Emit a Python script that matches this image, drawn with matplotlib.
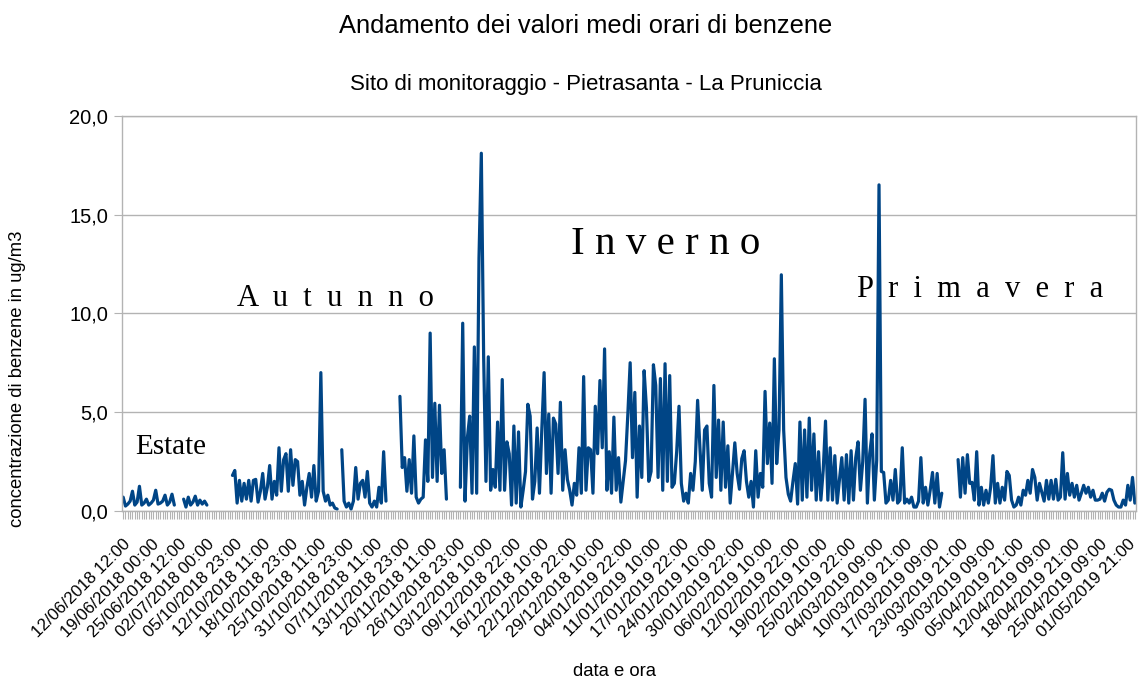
import numpy as np
import matplotlib.pyplot as plt
import matplotlib.transforms as mtransforms

# ================================
# Data (valori medi orari, un campione ogni 13 ore circa)
# ================================
NA = np.nan

estate_1 = [0.7, 0.25, 0.35, 0.5, 1.0, 0.3, 0.45, 1.25, 0.3, 0.4,
            0.6, 0.3, 0.4, 0.55, 1.05, 0.35, 0.4, 0.5, 0.8, 0.3,
            0.45, 0.85, 0.3]
estate_2 = [0.6, 0.2, 0.7, 0.3, 0.45, 0.75, 0.3, 0.55, 0.35, 0.5, 0.3]

autunno_1 = [1.8, 2.05, 0.4, 1.55, 0.5, 1.4, 0.6, 1.55, 0.5, 1.55,
             1.6, 0.45, 1.0, 1.9, 0.6, 1.2, 2.3, 0.6, 1.5, 0.8,
             3.2, 1.0, 2.6, 2.9, 1.0, 3.1, 1.3, 2.6, 2.5, 0.8,
             1.5, 0.3, 1.2, 1.9, 0.7, 2.3, 0.5, 1.0, 7.0, 1.0,
             0.5, 0.8, 0.3, 0.4, 0.15, 0.1]
autunno_2 = [3.1, 0.5, 0.2, 0.4, 0.1, 0.5, 2.2, 0.6, 1.4, 1.55,
             0.7, 2.0, 0.4, 0.2, 0.5, 0.2, 1.2, 0.4, 3.0, 0.5]
autunno_3 = [5.8, 2.2, 2.7, 1.0, 2.6, 0.9, 3.8, 0.7, 0.4, 0.6,
             0.7, 3.6, 1.5, 9.0, 1.7, 5.45, 1.5, 5.35, 1.9, 3.1, 0.6]

inverno = [1.2, 9.5, 0.5, 3.7, 4.8, 0.9, 8.3, 0.9, 12.8, 18.1,
           7.8, 1.5, 7.8, 1.05, 2.1, 1.2, 4.5, 1.05, 6.65, 1.05,
           3.5, 2.9, 0.3, 4.3, 0.4, 4.0, 0.2, 1.05, 2.0, 5.4,
           4.8, 0.6, 1.5, 4.2, 0.9, 4.1, 7.0, 1.9, 4.9, 0.9,
           4.7, 4.4, 1.9, 5.5, 1.05, 3.1, 1.6, 1.05, 0.3, 1.4,
           0.8, 3.2, 0.9, 6.8, 1.05, 3.2, 3.1, 0.9, 5.3, 2.9,
           6.6, 3.2, 8.2, 1.05, 3.0, 0.9, 4.75, 1.05, 2.7, 0.45,
           1.5, 2.55, 4.9, 7.5, 2.7, 6.0, 0.7, 4.3, 1.7, 7.1,
           5.2, 1.5, 2.0, 7.4, 6.35, 1.7, 6.7, 1.05, 7.45, 1.5,
           6.85, 1.2, 1.4, 3.0, 5.3, 1.4, 0.5, 0.9, 0.4, 1.9,
           1.05, 2.5, 5.6, 3.2, 1.05, 4.1, 4.3, 1.4, 0.7, 6.35,
           1.7, 4.6, 1.05, 4.5, 1.2, 3.3, 0.4, 1.9, 3.45, 1.9,
           1.1, 2.65, 3.05, 1.5, 0.7, 1.5, 0.2, 3.05, 0.7, 1.9,
           1.2, 6.05, 2.4, 4.45, 1.4, 7.7, 2.4, 4.1, 11.95, 4.1,
           1.7, 0.85, 0.5, 1.5, 2.4, 0.35, 4.5, 0.55, 4.1, 0.7,
           4.7, 1.05, 3.9, 0.55, 3.0, 0.55, 2.05, 4.55, 0.55, 3.2,
           0.55, 2.8, 0.4, 1.6, 2.7, 0.55, 2.85, 0.4, 3.05, 0.55,
           2.7, 3.5, 1.05, 2.5, 5.65, 0.4, 2.9, 3.9, 0.55, 2.55,
           16.5, 2.0, 1.95, 0.4, 0.55, 1.55, 0.55, 2.1, 0.4, 0.55,
           3.2, 0.4, 0.6, 0.4, 0.7, 0.2, 0.2, 0.5, 2.7, 0.4,
           1.2, 0.3, 1.05, 1.95, 0.4, 1.9, 0.2, 0.9]

primavera = [2.6, 0.7, 2.7, 0.9, 2.85, 1.4, 1.45, 0.55, 3.0, 0.3,
             1.2, 0.3, 1.05, 0.4, 1.2, 2.8, 0.4, 1.4, 0.4, 1.2,
             0.55, 2.0, 1.8, 0.55, 0.2, 0.3, 0.7, 0.3, 1.05, 0.8,
             1.55, 0.9, 2.1, 1.7, 0.55, 1.4, 0.95, 0.5, 1.55, 0.6,
             1.55, 0.6, 1.6, 0.55, 0.7, 2.95, 0.6, 1.9, 0.8, 1.4,
             0.7, 1.3, 0.55, 0.9, 1.3, 0.9, 1.2, 0.7, 1.05, 0.55,
             0.55, 0.6, 0.9, 0.5, 0.95, 1.1, 1.05, 0.55, 0.3, 0.2,
             0.2, 0.55, 0.3, 1.3, 0.55, 1.7, 0.4]

# dati mancanti tra un blocco e l'altro
benzene = np.array(estate_1 + [NA] * 3 + estate_2 + [NA] * 10 + autunno_1 + [NA]
                   + autunno_2 + [NA] * 5 + autunno_3 + [NA] * 5 + inverno
                   + [NA] * 6 + primavera)

date_labels = ['12/06/2018 12:00', '19/06/2018 00:00', '25/06/2018 12:00', '02/07/2018 00:00',
               '05/10/2018 23:00', '12/10/2018 11:00', '18/10/2018 23:00', '25/10/2018 11:00',
               '31/10/2018 23:00', '07/11/2018 11:00', '13/11/2018 23:00', '20/11/2018 11:00',
               '26/11/2018 23:00', '03/12/2018 10:00', '09/12/2018 22:00', '16/12/2018 10:00',
               '22/12/2018 22:00', '29/12/2018 10:00', '04/01/2019 22:00', '11/01/2019 10:00',
               '17/01/2019 22:00', '24/01/2019 10:00', '30/01/2019 22:00', '06/02/2019 10:00',
               '12/02/2019 22:00', '19/02/2019 10:00', '25/02/2019 22:00', '04/03/2019 09:00',
               '10/03/2019 21:00', '17/03/2019 09:00', '23/03/2019 21:00', '30/03/2019 09:00',
               '05/04/2019 21:00', '12/04/2019 09:00', '18/04/2019 21:00', '25/04/2019 09:00',
               '01/05/2019 21:00']
LABEL_STEP = 12   # campioni tra due etichette

y_ticks = [0, 5, 10, 15, 20]
y_labels = ['0,0', '5,0', '10,0', '15,0', '20,0']

# ================================
# Figure
# ================================
W, H = 1141, 682
plt.rcParams['font.family'] = ['Liberation Sans', 'DejaVu Sans']
fig = plt.figure(figsize=(W / 100, H / 100), dpi=100)

def fx(px):
    return px / W

def fy(py):
    return 1 - py / H

ax = fig.add_axes([fx(122), fy(511), fx(1136) - fx(122), fy(115.7) - fy(511)])

x = np.arange(len(benzene))
ax.plot(x, benzene, color='#004586', lw=2.3, solid_joinstyle='round', solid_capstyle='round')

ax.set_xlim(-0.5, len(benzene) - 0.5)
ax.set_ylim(0, 20)
ax.set_yticks(y_ticks)
ax.set_yticklabels(y_labels, fontsize=14.5)
ax.grid(axis='y', color='#b3b3b3', lw=1)
ax.set_axisbelow(True)

ax.set_xticks(np.arange(len(date_labels)) * LABEL_STEP)
ax.set_xticklabels(date_labels, rotation=45, ha='right', va='top',
                   rotation_mode='anchor', fontsize=12.2)
ax.set_xticks(x, minor=True)
offset = mtransforms.ScaledTranslation(6 / 100, 0, fig.dpi_scale_trans)
for lab in ax.get_xticklabels():
    lab.set_transform(lab.get_transform() + offset)

ax.tick_params(axis='both', which='both', colors='#b3b3b3', length=5.8, width=0.8,
               labelcolor='black')
ax.tick_params(axis='x', which='major', pad=12.6)
ax.tick_params(axis='y', pad=4.3)
for s in ax.spines.values():
    s.set_color('#b3b3b3')
    s.set_linewidth(1)

# titoli
fig.text(fx(586), fy(33), 'Andamento dei valori medi orari di benzene',
         ha='center', va='baseline', fontsize=18.4)
fig.text(fx(586), fy(90), 'Sito di monitoraggio - Pietrasanta - La Pruniccia',
         ha='center', va='baseline', fontsize=16)
fig.text(fx(615), fy(672), 'data e ora', ha='center', va='center', fontsize=13.3)
fig.text(fx(18), fy(379), 'concentrazione di benzene in ug/m3', ha='center', va='center',
         rotation=90, fontsize=13.3)

# stagioni
serif = ['Liberation Serif', 'DejaVu Serif']
fig.text(fx(135), fy(454), 'Estate', family=serif, fontsize=21, va='baseline')
fig.text(fx(237), fy(306), 'A  u  t  u  n  n  o', family=serif, fontsize=22.1, va='baseline')
fig.text(fx(571), fy(254), 'I n v e r n o', family=serif, fontsize=29.5, va='baseline')
fig.text(fx(857), fy(297), 'P  r  i  m  a  v  e  r  a', family=serif, fontsize=22.0,
         va='baseline')

fig.savefig('out.png', dpi=100)
